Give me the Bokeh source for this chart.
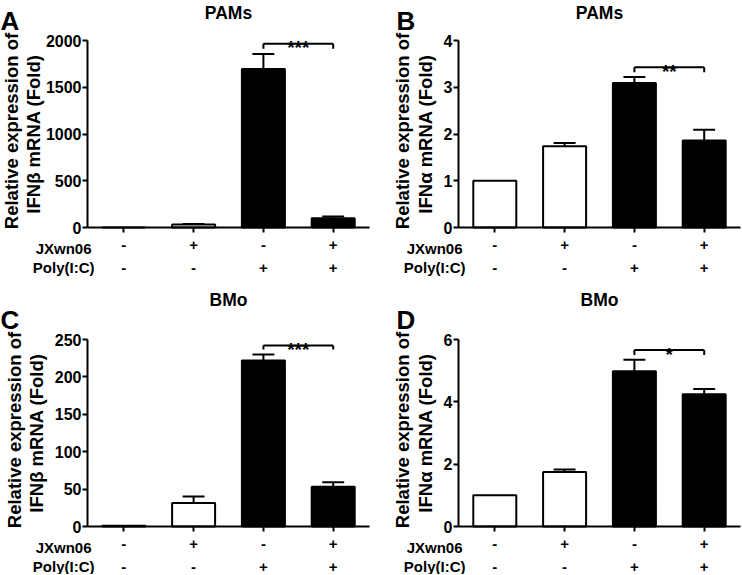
from math import pi
from bokeh.plotting import figure
from bokeh.models import Range1d, FixedTicker, Label
from bokeh.layouts import gridplot
from bokeh.embed import file_html
from bokeh.resources import INLINE

# ---------------- data ----------------
groups = [1, 2, 3, 4]
jxwn06 = ["-", "+", "-", "+"]
polyic = ["-", "-", "+", "+"]
bar_colors = ["white", "white", "black", "black"]

a_mean = [1, 32, 1695, 100]
a_err = [0, 6, 160, 18]
a_ticks = [0, 500, 1000, 1500, 2000]

b_mean = [1.0, 1.74, 3.09, 1.86]
b_err = [0, 0.07, 0.13, 0.23]
b_ticks = [0, 1, 2, 3, 4]

c_mean = [1.0, 31.5, 222, 53]
c_err = [0, 8.5, 8, 6]
c_ticks = [0, 50, 100, 150, 200, 250]

d_mean = [1.0, 1.75, 4.98, 4.24]
d_err = [0, 0.08, 0.37, 0.17]
d_ticks = [0, 2, 4, 6]

# significance brackets (height, drop, stars)
a_sig = (1964, 53, "***")
b_sig = (3.43, 0.11, "**")
c_sig = (242, 5.5, "***")
d_sig = (5.66, 0.16, "*")

FONT = "Liberation Sans"
XLO, XHI = 0.48, 4.52          # category axis extent
AX_PX, RIGHT_PX, SPAN_PX = 87, 369, 187


def lab(p, x, y, text, size="15px", align="center", baseline="middle",
        xo=0, yo=0, angle=0.0):
    p.add_layout(Label(x=x, y=y, text=text, x_offset=xo, y_offset=yo,
                       angle=angle, text_font=FONT, text_font_style="bold",
                       text_font_size=size, text_align=align,
                       text_baseline=baseline, text_color="black"))


def panel(letter, title, ylab2, means, errs, ticks, sig, width, height, top,
          bottom, ylab_off, letter_off):
    ymax = ticks[-1]
    ux = (RIGHT_PX - AX_PX) / (XHI - XLO)
    x0 = XLO - AX_PX / ux
    x1 = XHI + (width - RIGHT_PX) / ux
    y0 = -bottom / SPAN_PX * ymax
    y1 = ymax + top / SPAN_PX * ymax
    p = figure(width=width, height=height, x_range=Range1d(x0, x1),
               y_range=Range1d(y0, y1), output_backend="svg",
               toolbar_location=None, min_border=0, min_border_left=0,
               min_border_right=0, min_border_top=0, min_border_bottom=0)
    p.outline_line_color = None
    p.xgrid.visible = False
    p.ygrid.visible = False
    p.background_fill_color = "white"
    p.border_fill_color = "white"

    # bars
    p.vbar(x=groups, top=means, width=0.616, bottom=0,
           fill_color=bar_colors, line_color="black", line_width=2)
    # error bars (upper only)
    ex = [g for g, e in zip(groups, errs) if e > 0]
    eb = [m for m, e in zip(means, errs) if e > 0]
    et = [m + e for m, e in zip(means, errs) if e > 0]
    p.segment(x0=ex, y0=eb, x1=ex, y1=et, line_color="black", line_width=2)
    p.segment(x0=[x - 0.157 for x in ex], y0=et, x1=[x + 0.157 for x in ex],
              y1=et, line_color="black", line_width=2)
    # significance bracket
    yb, drop, stars = sig
    p.segment(x0=[3, 3, 4], y0=[yb, yb - drop, yb - drop],
              x1=[4, 3, 4], y1=[yb, yb, yb],
              line_color="black", line_width=2)
    lab(p, 3.5, yb, stars, size="19px", baseline="alphabetic", yo=-4)

    # axes through the origin
    for ax in (p.xaxis[0], p.yaxis[0]):
        ax.axis_line_width = 2
        ax.major_tick_line_width = 2
        ax.minor_tick_line_color = None
        ax.major_tick_in = 0
        ax.major_tick_out = 5
        ax.axis_line_color = "black"
        ax.major_tick_line_color = "black"
        ax.major_label_text_font = FONT
        ax.major_label_text_font_style = "bold"
        ax.major_label_text_color = "black"
    p.xaxis.fixed_location = 0
    p.xaxis.bounds = (XLO, XHI)
    p.xaxis.ticker = FixedTicker(ticks=groups)
    p.xaxis.major_label_overrides = {g: s for g, s in zip(groups, jxwn06)}
    p.xaxis.major_label_text_font_size = "15px"
    p.xaxis.major_label_standoff = 7
    p.yaxis.fixed_location = XLO
    p.yaxis.bounds = (0, ymax)
    p.yaxis.ticker = FixedTicker(ticks=ticks)
    p.yaxis.major_label_text_font_size = "16px"
    p.yaxis.major_label_standoff = 1

    # title and panel letter
    lab(p, 2.5, ymax, title, size="17.5px", yo=top - 12)
    lab(p, XLO, ymax, letter, size="26px", align="left",
        baseline="alphabetic", xo=letter_off, yo=20)
    # y-axis label (two lines)
    lab(p, XLO, ymax / 2, "Relative expression of", xo=ylab_off[0], yo=3,
        angle=pi / 2, size="18.5px")
    lab(p, XLO, ymax / 2, ylab2, xo=ylab_off[1], angle=pi / 2,
        size="18.5px")

    # treatment rows
    lab(p, XLO, 0, "JXwn06", align="right", xo=4, yo=-21)
    lab(p, XLO, 0, "Poly(I:C)", align="right", xo=7, yo=-40)
    for g, q in zip(groups, polyic):
        lab(p, g, 0, q, yo=-40)
    return p


pA = panel("A", "PAMs", "IFNβ mRNA (Fold)", a_mean, a_err, a_ticks, a_sig,
           371, 287, 40, 60, (-76, -54), -87)
pB = panel("B", "PAMs", "IFNα mRNA (Fold)", b_mean, b_err, b_ticks, b_sig,
           370, 287, 40, 60, (-56, -33), -62)
pC = panel("C", "BMo", "IFNβ mRNA (Fold)", c_mean, c_err, c_ticks, c_sig,
           371, 287, 52, 48, (-73, -51), -87)
pD = panel("D", "BMo", "IFNα mRNA (Fold)", d_mean, d_err, d_ticks, d_sig,
           370, 287, 52, 48, (-56, -33), -62)

grid = gridplot([[pA, pB], [pC, pD]], toolbar_location=None)

open("out.html", "w").write(file_html(grid, INLINE))
